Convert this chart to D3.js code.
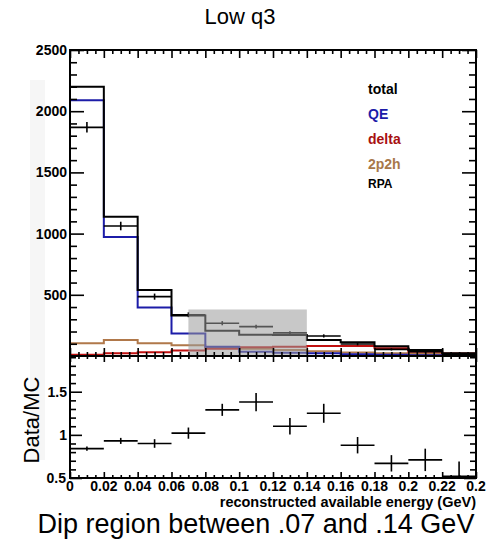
<!DOCTYPE html>
<html><head><meta charset="utf-8">
<script src="https://cdn.jsdelivr.net/npm/d3@7"></script>
<style>body{margin:0;background:#fff}svg{display:block}text{font-family:"Liberation Sans",Arial,sans-serif}</style>
</head><body><svg id="c" width="492" height="540"></svg>
<script>
// ---- data ----
const binEdges = [0,0.02,0.04,0.06,0.08,0.10,0.12,0.14,0.16,0.18,0.20,0.22,0.24];
const total  = [2200,1138,539,330,206,174,172,131,112,80,50,22];
const qe     = [2090,973,396,183,76,35,27,22,15,10,6,3];
const delta  = [10,22,30,45,60,72,76,82,82,63,35,20];
const twoP2h = [104,131,104,88,72,60,49,38,28,22,16,8];
const dataVals = [1868,1062,485,337,268,240,189,164,98,54,36,11];
const dataErr  = [43,35,25,20,17,16,14,13,11,9,7,5];
const ratio    = [0.84,0.93,0.90,1.02,1.29,1.38,1.10,1.25,0.88,0.67,0.71,0.52];
const ratioErr = [0.025,0.035,0.05,0.065,0.07,0.105,0.095,0.11,0.095,0.095,0.13,0.17];
const xTickVals = [0,0.02,0.04,0.06,0.08,0.10,0.12,0.14,0.16,0.18,0.20,0.22,0.24];
const xTickLabels = ["0","0.02","0.04","0.06","0.08","0.1","0.12","0.14","0.16","0.18","0.2","0.22","0.2"];
const yTopTicks = [500,1000,1500,2000,2500];
const yRatioTicks = [0.5,1,1.5];
const dipRegion = [0.07,0.14,380];
const legend = [["total","#000",14],["QE","#1c1ca8",14],["delta","#a81010",14],["2p2h","#a8784a",14],["RPA","#000",12]];

// ---- layout ----
const svg = d3.select("#c");
const L=70,R=476,T=50,M=356,B=478;
const x = d3.scaleLinear().domain([0,0.24]).range([L,R]);
const yT = d3.scaleLinear().domain([0,2500]).range([M,T]);
const yR = d3.scaleLinear().domain([0.5,1.914]).range([B,M]);

// faint strip artifact
svg.append("rect").attr("x",30).attr("y",80).attr("width",15).attr("height",380).attr("fill","#f6f6f6");

svg.append("text").attr("x",240).attr("y",24).attr("text-anchor","middle").attr("font-size",22).text("Low q3");

// clip paths
const defs = svg.append("defs");
defs.append("clipPath").attr("id","ct").append("rect").attr("x",L).attr("y",T).attr("width",R-L).attr("height",M-T);
defs.append("clipPath").attr("id","cb").append("rect").attr("x",L).attr("y",M).attr("width",R-L).attr("height",B-M);

const gT = svg.append("g").attr("clip-path","url(#ct)");
function stepPath(vals, y){
  let p = "M"+x(binEdges[0])+","+y(0);
  vals.forEach((v,i)=>{ p += "L"+x(binEdges[i])+","+y(v)+"L"+x(binEdges[i+1])+","+y(v); });
  p += "L"+x(binEdges[vals.length])+","+y(0);
  return p;
}
[[twoP2h,"#b0784a"],[delta,"#c01010"],[qe,"#1c1ca8"],[total,"#000"]].forEach(([v,c])=>{
  gT.append("path").attr("d",stepPath(v,yT)).attr("fill","none").attr("stroke",c).attr("stroke-width",2);
});
// data points
dataVals.forEach((d,i)=>{
  const cx = x((binEdges[i]+binEdges[i+1])/2);
  gT.append("line").attr("x1",x(binEdges[i])).attr("x2",x(binEdges[i+1])).attr("y1",yT(d)).attr("y2",yT(d)).attr("stroke","#000").attr("stroke-width",1.6);
  gT.append("line").attr("x1",cx).attr("x2",cx).attr("y1",yT(d-dataErr[i])).attr("y2",yT(d+dataErr[i])).attr("stroke","#000").attr("stroke-width",1.6);
});
// dip region box
svg.append("rect").attr("x",x(dipRegion[0])).attr("y",yT(dipRegion[2])).attr("width",x(dipRegion[1])-x(dipRegion[0])).attr("height",yT(0)-yT(dipRegion[2]))
  .attr("fill","#9b9b9b").attr("fill-opacity",0.55);

// ratio points
const gB = svg.append("g").attr("clip-path","url(#cb)");
ratio.forEach((r,i)=>{
  const cx = x((binEdges[i]+binEdges[i+1])/2);
  gB.append("line").attr("x1",x(binEdges[i])).attr("x2",x(binEdges[i+1])).attr("y1",yR(r)).attr("y2",yR(r)).attr("stroke","#000").attr("stroke-width",1.6);
  gB.append("line").attr("x1",cx).attr("x2",cx).attr("y1",yR(r-ratioErr[i])).attr("y2",yR(r+ratioErr[i])).attr("stroke","#000").attr("stroke-width",1.6);
});

// ---- axes ----
function ticks(axisFn, scale, vals, size, tx, ty){
  const g = svg.append("g").attr("transform",`translate(${tx},${ty})`)
    .call(axisFn(scale).tickValues(vals).tickSize(size).tickFormat(""));
  g.select(".domain").remove();
  g.selectAll("line").attr("stroke","#000").attr("stroke-width",1.6);
  return g;
}
const xMinor = d3.range(0,0.2401,0.005).filter(v=>Math.abs(v/0.02-Math.round(v/0.02))>1e-6);
const yTMinor = d3.range(100,2500,100).filter(v=>v%500!==0);
const yRMinor = d3.range(0.6,1.91,0.1).filter(v=>Math.abs(v*2-Math.round(v*2))>1e-6);
// top panel
ticks(d3.axisBottom,x,xTickVals,-8,0,M); ticks(d3.axisBottom,x,xMinor,-4,0,M);
ticks(d3.axisTop,x,xTickVals,-8,0,T); ticks(d3.axisTop,x,xMinor,-4,0,T);
ticks(d3.axisLeft,yT,yTopTicks,-14,L,0); ticks(d3.axisLeft,yT,yTMinor,-7,L,0);
ticks(d3.axisRight,yT,yTopTicks,-14,R,0); ticks(d3.axisRight,yT,yTMinor,-7,R,0);
// bottom panel
ticks(d3.axisBottom,x,xTickVals,-6,0,B); ticks(d3.axisBottom,x,xMinor,-3,0,B);
ticks(d3.axisTop,x,xTickVals,-6,0,M); ticks(d3.axisTop,x,xMinor,-3,0,M);
ticks(d3.axisLeft,yR,yRatioTicks,-12,L,0); ticks(d3.axisLeft,yR,yRMinor,-6,L,0);
ticks(d3.axisRight,yR,yRatioTicks,-12,R,0); ticks(d3.axisRight,yR,yRMinor,-6,R,0);
// frames
svg.append("rect").attr("x",L).attr("y",T).attr("width",R-L).attr("height",M-T).attr("fill","none").attr("stroke","#000").attr("stroke-width",2);
svg.append("rect").attr("x",L).attr("y",M).attr("width",R-L).attr("height",B-M).attr("fill","none").attr("stroke","#000").attr("stroke-width",2);

// tick labels
const lab = svg.append("g").attr("font-weight","bold").attr("font-size",14);
yTopTicks.forEach(v=>lab.append("text").attr("x",67).attr("y",yT(v)+5).attr("text-anchor","end").text(v));
yRatioTicks.forEach(v=>lab.append("text").attr("x",v===0.5?66:67).attr("y",yR(v)+5).attr("text-anchor","end").text(v));
xTickVals.forEach((v,i)=>lab.append("text").attr("x",x(v)).attr("y",491).attr("text-anchor","middle").text(xTickLabels[i]));

svg.append("text").attr("x",476).attr("y",507).attr("text-anchor","end").attr("font-weight","bold").attr("font-size",14.5)
  .text("reconstructed available energy (GeV)");
svg.append("text").attr("transform","translate(39,420) rotate(-90)").attr("text-anchor","middle").attr("font-size",22).text("Data/MC");

// legend
const ly=[94,119,144,169,188];
legend.forEach(([t,c,s],i)=>svg.append("text").attr("x",368).attr("y",ly[i]).attr("fill",c).attr("font-weight","bold").attr("font-size",s).text(t));

svg.append("text").attr("x",256).attr("y",533).attr("text-anchor","middle").attr("font-size",27).text("Dip region between .07 and .14 GeV");
</script></body></html>
